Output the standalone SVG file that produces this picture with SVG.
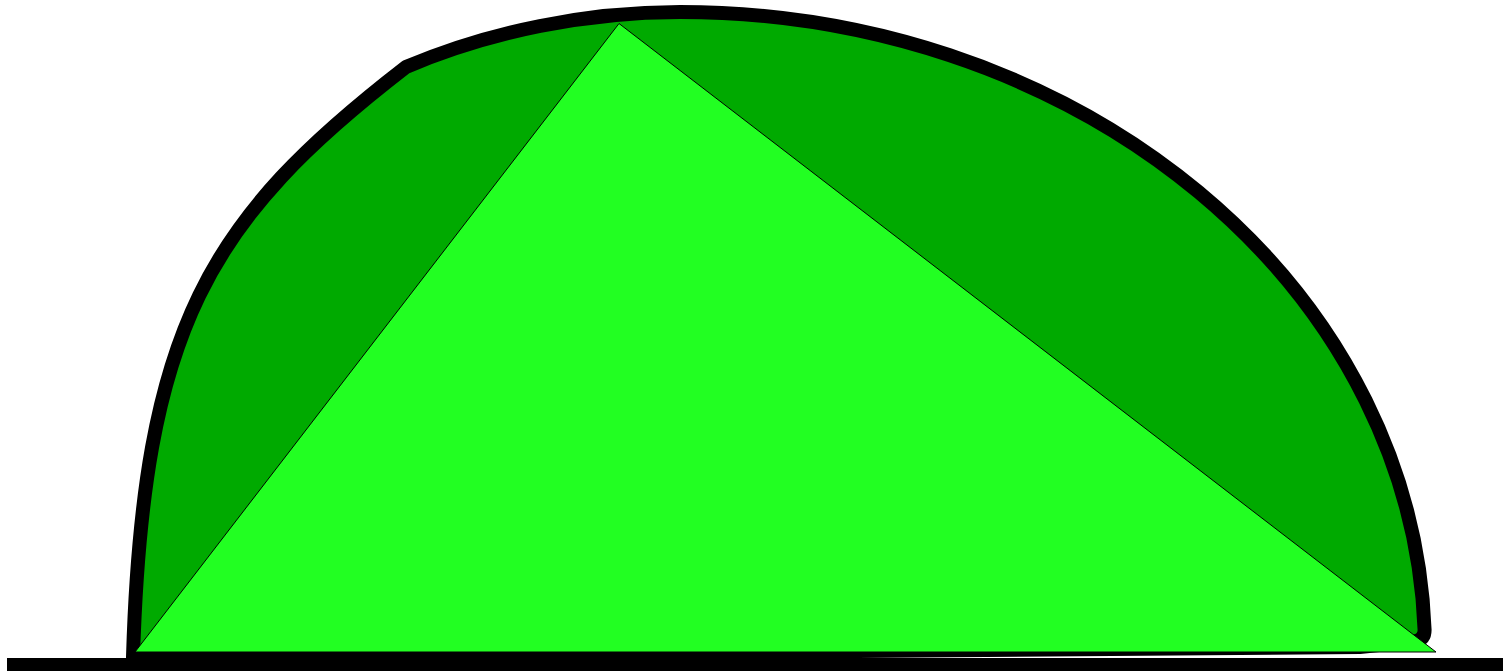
<svg xmlns="http://www.w3.org/2000/svg" width="1509" height="671" viewBox="0 0 1509 671">
<style>
.dome{fill:#00aa00;stroke:#000;stroke-width:14}
.tri{fill:#22ff22;stroke:#000;stroke-width:1}
.ground{fill:#000}
</style>
<rect width="1509" height="671" fill="#fff"/>
<g id="dome">
<path class="dome" d="M133 657 C143 327 208.5 219.5 406 67 C491 31 587 12 680 12 A745 638 0 0 1 1424.6 630 Q1424.6 639 1416 641 L1360 647 L133 657 Z"/>
</g>
<g id="triangle">
<polygon class="tri" points="135,652 619,23.5 1436,652"/>
</g>
<g id="ground">
<rect class="ground" x="7" y="658" width="1496" height="13"/>
</g>
</svg>
